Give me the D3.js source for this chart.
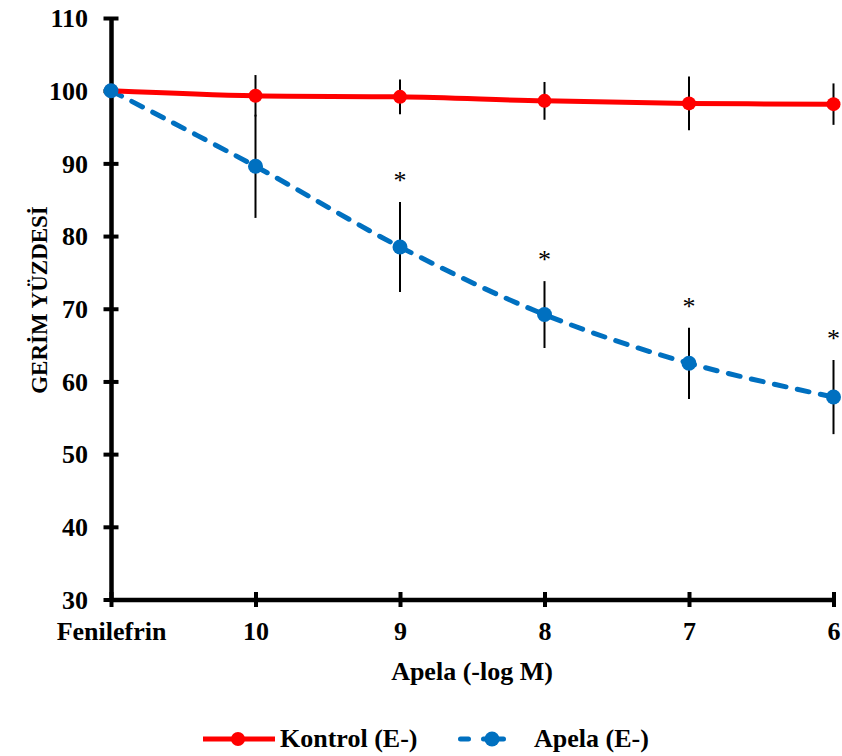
<!DOCTYPE html>
<html>
<head>
<meta charset="utf-8">
<script src="https://cdn.jsdelivr.net/npm/d3@7"></script>
<style>
  html, body { margin: 0; padding: 0; background: #fff; }
  svg { display: block; }
</style>
</head>
<body>
<svg id="chart" width="842" height="756" font-family="Liberation Serif"></svg>
<script>
const categories = ["Fenilefrin", "10", "9", "8", "7", "6"];
const kontrolMean = [100, 99.3, 99.15, 98.6, 98.25, 98.15];
const kontrolErr  = [0, 2.85, 2.4, 2.6, 3.7, 2.85];
const apelaMean   = [100, 89.6, 78.5, 69.2, 62.5, 57.85];
const apelaErr    = [0, 7.1, 6.2, 4.6, 4.9, 5.1];
const significant = [false, false, true, true, true, true];
const yTicks = [30, 40, 50, 60, 70, 80, 90, 100, 110];
const seriesNames = ["Kontrol (E-)", "Apela (E-)"];
const xTitle = "Apela (-log M)";
const yTitle = "GERİM YÜZDESİ";

const FONT = "Liberation Serif";
const svg = d3.select("#chart");
const x = d3.scalePoint().domain(categories).range([111, 833.5]).padding(0);
const y = d3.scaleLinear().domain([30, 110]).range([599.5, 18]);

const RED = "#FF0000", BLUE = "#0070C0";

function styleText(sel, size, weight) {
  return sel.attr("font-family", FONT)
     .attr("font-size", size)
     .attr("font-weight", weight || "bold")
     .attr("fill", "#000");
}

// error bars (drawn under lines)
const eb = svg.append("g");
function errBars(mean, err) {
  categories.forEach((c, i) => {
    if (err[i] > 0) {
      eb.append("line")
        .attr("x1", x(c)).attr("x2", x(c))
        .attr("y1", y(mean[i] + err[i])).attr("y2", y(mean[i] - err[i]))
        .attr("stroke", "#000").attr("stroke-width", 2);
    }
  });
}
errBars(kontrolMean, kontrolErr);
errBars(apelaMean, apelaErr);

// axes
const yAxis = d3.axisLeft(y).tickValues(yTicks).tickSizeInner(0).tickSizeOuter(0).tickPadding(0);
const xAxis = d3.axisBottom(x).tickSizeInner(0).tickSizeOuter(0).tickPadding(0);

const gy = svg.append("g").attr("transform", `translate(${x(categories[0])},0)`).call(yAxis)
  .attr("font-family", FONT).attr("font-size", 26);
gy.select(".domain").attr("stroke", "#000").attr("stroke-width", 4.5);
gy.selectAll(".tick").append("line").attr("x1", -7.5).attr("x2", 7.5).attr("stroke", "#000").attr("stroke-width", 4);
styleText(gy.selectAll(".tick text").attr("x", -23).attr("dy", "0.34em"), 26);

const gx = svg.append("g").attr("transform", `translate(0,${y(30)})`).call(xAxis)
  .attr("font-family", FONT).attr("font-size", 26);
gx.select(".domain").attr("stroke", "#000").attr("stroke-width", 4.5);
gx.selectAll(".tick").append("line").attr("y1", -7.5).attr("y2", 7.5).attr("stroke", "#000").attr("stroke-width", 4);
styleText(gx.selectAll(".tick text").attr("y", 40).attr("dy", 0), 26);

// lines
const line = d3.line().x((d, i) => x(categories[i])).y(d => y(d)).curve(d3.curveCardinal.tension(0));
svg.append("path").datum(apelaMean).attr("d", line)
  .attr("fill", "none").attr("stroke", BLUE).attr("stroke-width", 5)
  .attr("stroke-dasharray", "12,11.5").attr("stroke-linecap", "round");
svg.append("path").datum(kontrolMean).attr("d", line)
  .attr("fill", "none").attr("stroke", RED).attr("stroke-width", 5);

svg.append("g").selectAll("circle").data(kontrolMean).join("circle")
  .attr("cx", (d, i) => x(categories[i])).attr("cy", d => y(d)).attr("r", 7).attr("fill", RED);
svg.append("g").selectAll("circle").data(apelaMean).join("circle")
  .attr("cx", (d, i) => x(categories[i])).attr("cy", d => y(d)).attr("r", 7.5).attr("fill", BLUE);

// significance asterisks
styleText(svg.append("g").selectAll("text")
  .data(apelaMean.map((m, i) => ({ m, e: apelaErr[i], s: significant[i], c: categories[i] })).filter(d => d.s))
  .join("text")
  .attr("x", d => x(d.c)).attr("y", d => y(d.m + d.e) - 13)
  .attr("text-anchor", "middle")
  .text("*"), 26, "normal");

// axis titles
styleText(svg.append("text").attr("x", 472).attr("y", 680).attr("text-anchor", "middle").text(xTitle), 26);
styleText(svg.append("text").attr("transform", "translate(47,300) rotate(-90)").attr("text-anchor", "middle").text(yTitle), 23);

// legend
const lg = svg.append("g");
lg.append("line").attr("x1", 203).attr("x2", 275).attr("y1", 739).attr("y2", 739).attr("stroke", RED).attr("stroke-width", 5);
lg.append("circle").attr("cx", 238).attr("cy", 739).attr("r", 7).attr("fill", RED);
styleText(lg.append("text").attr("x", 280).attr("y", 747).text(seriesNames[0]), 26);
lg.append("line").attr("x1", 460.5).attr("x2", 517).attr("y1", 739).attr("y2", 739).attr("stroke", BLUE).attr("stroke-width", 5)
  .attr("stroke-dasharray", "8,15,20,15,8").attr("stroke-linecap", "round");
lg.append("circle").attr("cx", 492).attr("cy", 739).attr("r", 7.5).attr("fill", BLUE);
styleText(lg.append("text").attr("x", 534).attr("y", 747).text(seriesNames[1]), 26);
</script>
</body>
</html>
